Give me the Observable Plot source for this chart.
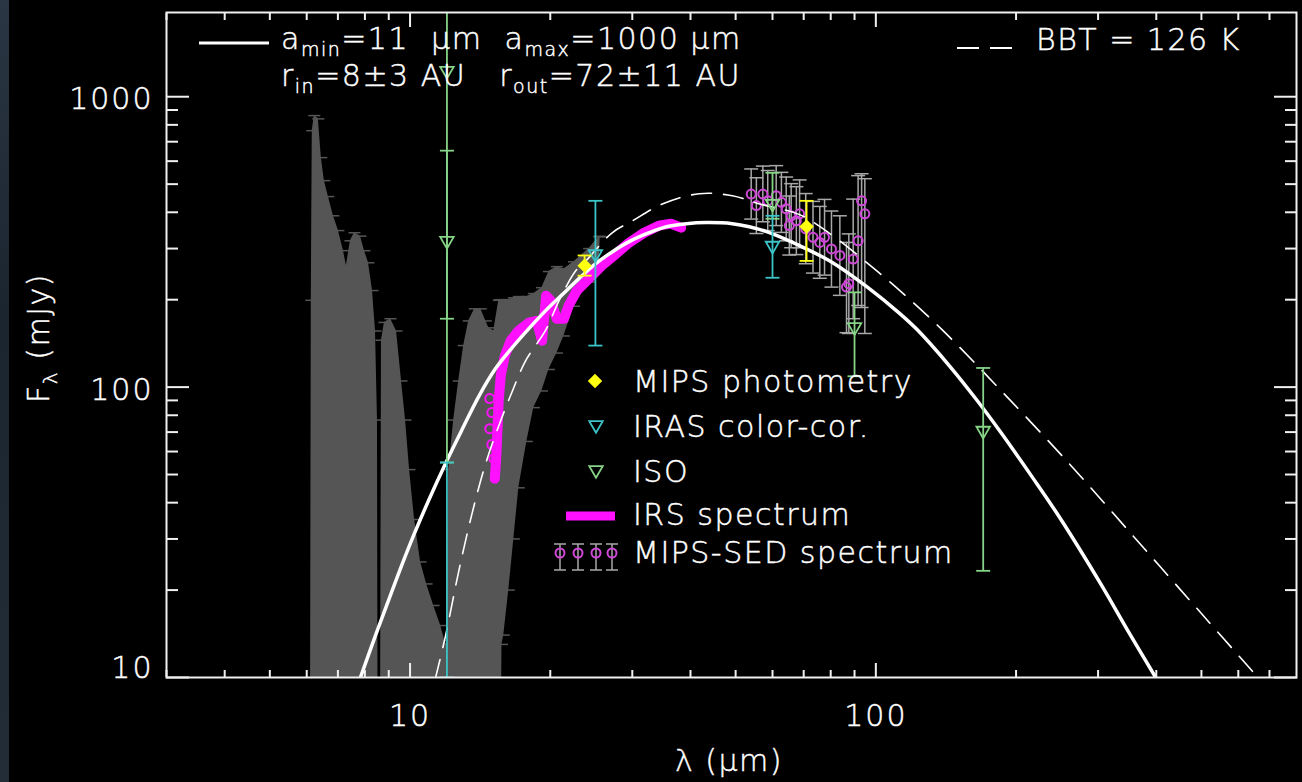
<!DOCTYPE html>
<html><head><meta charset="utf-8">
<script src="https://cdn.jsdelivr.net/npm/d3@7"></script>
<script src="https://cdn.jsdelivr.net/npm/@observablehq/plot@0.6"></script>
<style>
html,body{margin:0;padding:0;background:#000;}
#chart{position:relative;width:1302px;height:782px;overflow:hidden;background:#000;}
#strip{position:absolute;left:0;top:0;width:9px;height:782px;background:linear-gradient(#2a3643,#1b2530 40%,#232d38);z-index:2;}
#chart svg text{stroke:#ffffff;stroke-width:0.45px;}
</style></head><body><div id="chart"><div id="strip"></div></div>
<script>
// ---------------- DATA ----------------
// Gray IRS low-resolution spectrum with error bars (wavelength μm, lower / upper flux mJy)
const grayLam = [6.10,6.137,6.167,6.229,6.354,6.449,6.546,6.677,6.845,7.016,7.193,7.301,7.447,7.597,7.826,7.982,8.142,8.305,8.430,8.513,8.555,8.618,8.682,8.812,9.079,9.353,9.587,9.779,9.975,10.226,10.534,10.852,11.236,11.632,11.865,11.984,12.104,12.408,12.719,13.038,13.365,13.768,14.184,14.541,14.757,15.128,15.507,15.6,15.75,15.896,16.294,16.703,17.121,17.814,18.442,19.19,19.867,20.671,21.401,22.488,24.231,25.463,25.6];
const grayLo  = [1,1,1,1,1,1,1,1,1,1,1,1,1,1,1,1,1,1,1,1,1,1,1,1,1,1,1,1,1,1,1,1,1,1,1,1,1,1,1,1,1,1,1,1,1,1,1,1,13,14,20,30,45,65,85,97,115,131,150,190,230,260,330];
const grayHi  = [1,199,764,861,839,617,514,453,389,346,295,262,319,340,331,295,268,215,156,77,1,1,145,167,172,156,105,77,52,35,25,21,17.7,15.1,13.4,13,52,77,105,139,169,186,186,169,160,156,199,200,200,200,200,203,205,205,210,220,250,260,255,270,300,330,330];

// IRS spectrum (thick magenta)
const irsLam = [15.2,15.3,15.4,15.5,15.66,15.97,16.45,17.1,18.0,18.7,19.2,19.6,20.05,20.65,21.4,21.9,22.8,24.2,25.8,27.4,29.5,31.8,34.2,36.3,38.2];
const irsF   = [48.4,55.8,70.8,89.8,109.6,128,144.5,156.5,166.7,169,144.5,206.5,198.6,172,172,190.8,214.7,236.3,261.9,283.6,314,340,359.7,365.5,354];
// IRS short-wavelength points drawn as circles
const irsPtLam = [14.83,14.98,14.83,14.98,15.13];
const irsPtF   = [91.3,81.7,71.9,63.4,56.7];

// Disk model (solid white): a_min=11 μm, a_max=1000 μm
const modelLam = [7.81,8.55,9.307,10.07,10.96,11.91,12.93,14.04,15.26,16.57,17.99,19.55,21.22,23.05,25.04,27.2,29.54,32.6,35.5,39.2,43.3,49.2,53.5,58.3,68.6,80.8,95.6,112.6,122.6,144.3,165,184.9,217.8,248.9,303.5,346.7,398.8];
const modelF   = [9.92,14.86,21.4,29.6,40.7,54.5,71.4,92.8,115.8,136.8,159,183.4,208.2,236.4,266.1,292.7,316.9,340.2,356.8,365.4,368.5,365.4,356.8,343,306.9,268.3,221.8,179.1,157.8,117.7,89.9,70.3,48.4,35.3,21.1,14.6,10];

// Blackbody T = 126 K (dashed)
const bbLam = [11.33,11.91,12.72,13.58,14.52,15.5,16.57,17.7,19.55,20.9,22.7,23.87,27.16,30.0,34.8,41.8,49.2,56.3,68.6,80.8,95.6,112.6,139.4,184.9,257.7,357.5,498.4,661];
const bbF   = [9.9,13.86,23.2,36.6,54.3,73.5,96.6,123.2,157,199,252,272.6,340,373.3,427,463.6,456,427,392.6,332.3,268.3,214.9,156.5,98.0,55.4,30.6,16.7,10];

// MIPS photometry (yellow diamonds)
const mipsLam = [23.7,71];
const mipsF   = [262,357];
const mipsLo  = [242,272];
const mipsHi  = [284,438];

// IRAS color-corrected (cyan)
const irasLam = [12,25,60];
const irasF   = [null,287,307];
const irasLo  = [10,139,238];
const irasHi  = [55,438,389];

// ISO (green)
const isoLam = [12,12,60,90,170];
const isoF   = [1229,319,428,161,70.8];
const isoLo  = [55,172,380,109,23.3];
const isoHi  = [4000,652,547,212,116.4];

// MIPS-SED spectrum (magenta circles, gray error bars)
const sedLam = [54.0,55.4,57.2,58.6,61.1,62.7,64.2,65.2,65.8,67.5,68.6,70.7,73.3,75.8,77.6,80.3,83.7,86.5,87.5,89.4,91.6,93.2,94.7];
const sedF   = [462,422,462,438,456,433,411,360,389,374,395,351,328,315,328,299,284,221,227,276,319,438,395];
const sedLo  = [379,338,371,346,360,341,319,285,302,286,302,266,247,237,243,221,207,154,153,172,191,188,153];
const sedHi  = [564,526,577,557,579,549,529,455,502,490,517,464,436,419,443,404,389,315,337,444,535,543,522];

// Axis ticks
const xMajor = [10,100];
const xMinor = [3,4,5,6,7,8,9,20,30,40,50,60,70,80,90,200,300,400,500,600,700];
const yMajor = [10,100,1000];
const yMinor = [20,30,40,50,60,70,80,90,200,300,400,500,600,700,800,900];

const legendLabels = ["MIPS photometry","IRAS color-cor.","ISO","IRS spectrum","MIPS-SED spectrum"];

// ---------------- BUILD ----------------
const zip = (keys, arrs) => arrs[0].map((_, i) => Object.fromEntries(keys.map((k, j) => [k, arrs[j][i]])));
const gray  = zip(["lam","lo","hi"], [grayLam, grayLo, grayHi]);
const irs   = zip(["lam","f"], [irsLam, irsF]);
const irsPt = zip(["lam","f"], [irsPtLam, irsPtF]);
const model = zip(["lam","f"], [modelLam, modelF]);
const bb    = zip(["lam","f"], [bbLam, bbF]);
const mips  = zip(["lam","f","lo","hi"], [mipsLam, mipsF, mipsLo, mipsHi]);
const iras  = zip(["lam","f","lo","hi"], [irasLam, irasF, irasLo, irasHi]);
const iso   = zip(["lam","f","lo","hi"], [isoLam, isoF, isoLo, isoHi]);
const sed   = zip(["lam","f","lo","hi"], [sedLam, sedF, sedLo, sedHi]);

const GRAY = "#555555", SEDGRAY = "#a8a8a8", MAG = "#ff10ff", SEDMAG = "#d048d8",
      YEL = "#ffff10", CYAN = "#3cc4c8", GREEN = "#86d486";
const FONT = '"DejaVu Sans", "Liberation Sans", sans-serif';

const capSym = {draw(ctx, size) { const r = Math.sqrt(size / Math.PI); ctx.moveTo(-r, 0); ctx.lineTo(r, 0); }};

function errMarks(data, color, capR, sw) {
  return [
    Plot.ruleX(data, {x: "lam", y1: "lo", y2: "hi", stroke: color, strokeWidth: sw, clip: true}),
    Plot.dot(data, {x: "lam", y: "lo", symbol: capSym, r: capR, stroke: color, strokeWidth: sw, clip: true}),
    Plot.dot(data, {x: "lam", y: "hi", symbol: capSym, r: capR, stroke: color, strokeWidth: sw, clip: true})
  ];
}

const tickStyle = {fill: "none", stroke: "#f0f0f0", strokeWidth: 2};

const plot = Plot.plot({
  width: 1302, height: 782,
  marginLeft: 166, marginRight: 6, marginTop: 12, marginBottom: 105,
  style: {background: "black", color: "white", fontFamily: FONT, fontSize: "30px", fontWeight: 300, letterSpacing: "2px", overflow: "visible"},
  x: {type: "log", domain: [3, 800]},
  y: {type: "log", domain: [10, 1950]},
  marks: [
    // gray spectrum band
    Plot.areaY(gray, {x: "lam", y1: "lo", y2: "hi", fill: GRAY, clip: true}),
    Plot.dot(gray.filter(d => d.hi > 10), {x: "lam", y: "hi", symbol: capSym, r: 6, stroke: GRAY, strokeWidth: 1.5, clip: true}),
    Plot.dot(gray.filter(d => d.lo > 10), {x: "lam", y: "lo", symbol: capSym, r: 6, stroke: GRAY, strokeWidth: 1.5, clip: true}),
    // MIPS-SED spectrum
    ...errMarks(sed, SEDGRAY, 7, 1.5),
    Plot.dot(sed, {x: "lam", y: "f", r: 4.5, stroke: SEDMAG, strokeWidth: 2, fill: "none", clip: true}),
    // IRS spectrum
    Plot.dot(irsPt, {x: "lam", y: "f", r: 4.5, stroke: MAG, strokeWidth: 2, fill: "none", clip: true}),
    Plot.line(irs, {x: "lam", y: "f", stroke: MAG, strokeWidth: 10, strokeLinejoin: "round", clip: true}),
    // model and blackbody
    Plot.line(model, {x: "lam", y: "f", stroke: "white", strokeWidth: 3.5, curve: "catmull-rom", clip: true}),
    Plot.line(bb, {x: "lam", y: "f", stroke: "white", strokeWidth: 1.6, strokeDasharray: "20,12", curve: "catmull-rom", clip: true}),
    // ISO
    ...errMarks(iso, GREEN, 7, 1.8),
    Plot.dot(iso, {x: "lam", y: "f", symbol: "triangle", rotate: 180, r: 5, stroke: GREEN, strokeWidth: 1.8, fill: "none", clip: true}),
    // IRAS
    ...errMarks(iras, CYAN, 7, 1.8),
    Plot.dot(iras, {x: "lam", y: "f", symbol: "triangle", rotate: 180, r: 5, stroke: CYAN, strokeWidth: 1.8, fill: "none", clip: true}),
    // MIPS photometry
    ...errMarks(mips, YEL, 7, 1.8),
    Plot.dot(mips, {x: "lam", y: "f", symbol: "diamond2", r: 6.5, fill: YEL, stroke: "none", clip: true}),
    // frame and inward ticks on all four sides
    Plot.frame({stroke: "#f0f0f0", strokeWidth: 2}),
    Plot.axisX(xMajor, {anchor: "bottom", tickSize: -14, ...tickStyle}),
    Plot.axisX(xMinor, {anchor: "bottom", tickSize: -7, ...tickStyle}),
    Plot.axisX(xMajor, {anchor: "top", tickSize: -14, ...tickStyle}),
    Plot.axisX(xMinor, {anchor: "top", tickSize: -7, ...tickStyle}),
    Plot.axisY(yMajor, {anchor: "left", tickSize: -23, ...tickStyle}),
    Plot.axisY(yMinor, {anchor: "left", tickSize: -12, ...tickStyle}),
    Plot.axisY(yMajor, {anchor: "right", tickSize: -23, ...tickStyle}),
    Plot.axisY(yMinor, {anchor: "right", tickSize: -12, ...tickStyle}),
    // tick labels
    Plot.axisX(xMajor, {anchor: "bottom", tickSize: 0, tickPadding: 27, fontSize: 30, tickFormat: d => String(d), label: null, fill: "white"}),
    Plot.axisY(yMajor.slice(1), {anchor: "left", tickSize: 0, tickPadding: 13, fontSize: 30, tickFormat: d => String(d), label: null, fill: "white", dy: 3}),
    Plot.axisY(yMajor.slice(0, 1), {anchor: "left", tickSize: 0, tickPadding: 13, fontSize: 30, tickFormat: d => String(d), label: null, fill: "white", dy: -9})
  ]
});

document.getElementById("chart").appendChild(plot);

// ---------------- annotations, titles and legend ----------------
const svg = d3.select(plot);
const g = svg.append("g")
  .attr("font-family", FONT).attr("font-size", 30).attr("font-weight", 300)
  .attr("text-anchor", "start")
  .attr("fill", "white").attr("letter-spacing", "1.5px").style("white-space", "pre");

function sub(t, main, s) { t.append("tspan").text(main); t.append("tspan").attr("dy", 7).attr("font-size", 19).text(s); }

// top-left model legend
g.append("line").attr("x1", 199).attr("x2", 269).attr("y1", 43).attr("y2", 43).attr("stroke", "white").attr("stroke-width", 3);
const t1 = g.append("text").attr("x", 281).attr("y", 49);
sub(t1, "a", "min");
t1.append("tspan").attr("dy", -7).text("=11  \u03bcm  ");
sub(t1, "a", "max");
t1.append("tspan").attr("dy", -7).text("=1000 \u03bcm");

const t2 = g.append("text").attr("x", 281).attr("y", 86);
sub(t2, "r", "in");
t2.append("tspan").attr("dy", -7).text("=8\u00b13 AU   ");
sub(t2, "r", "out");
t2.append("tspan").attr("dy", -7).text("=72\u00b111 AU");

// blackbody legend (top right)
g.append("line").attr("x1", 957).attr("x2", 1012).attr("y1", 48).attr("y2", 48)
  .attr("stroke", "white").attr("stroke-width", 2).attr("stroke-dasharray", "22,11");
g.append("text").attr("x", 1036).attr("y", 50).text("BBT = 126 K");

// axis titles
const yt = g.append("text").attr("transform", "translate(49,338) rotate(-90)").attr("text-anchor", "middle");
yt.append("tspan").text("F");
yt.append("tspan").attr("dy", 8).attr("font-size", 20).text("\u03bb");
yt.append("tspan").attr("dy", -8).text(" (mJy)");

g.append("text").attr("x", 729).attr("y", 771).attr("text-anchor", "middle").text("\u03bb (\u03bcm)");

// data legend
const rowsY = [392, 437, 482, 525, 563];
legendLabels.forEach((lab, i) => g.append("text").attr("x", 633).attr("y", rowsY[i]).text(lab));
g.append("path").attr("d", d3.symbol(d3.symbolDiamond2, 6.5 * 6.5 * Math.PI)()).attr("transform", "translate(595,381)").attr("fill", YEL);
const tri = d3.symbol(d3.symbolTriangle, 5 * 5 * Math.PI)();
g.append("path").attr("d", tri).attr("transform", "translate(596,425) rotate(180)").attr("fill", "none").attr("stroke", CYAN).attr("stroke-width", 1.8);
g.append("path").attr("d", tri).attr("transform", "translate(596,470) rotate(180)").attr("fill", "none").attr("stroke", GREEN).attr("stroke-width", 1.8);
g.append("line").attr("x1", 566).attr("x2", 615).attr("y1", 516).attr("y2", 516).attr("stroke", MAG).attr("stroke-width", 9);
[560, 578, 596, 612].forEach(x => {
  g.append("line").attr("x1", x).attr("x2", x).attr("y1", 544).attr("y2", 570).attr("stroke", SEDGRAY).attr("stroke-width", 1.5);
  g.append("line").attr("x1", x - 6).attr("x2", x + 6).attr("y1", 544).attr("y2", 544).attr("stroke", SEDGRAY).attr("stroke-width", 1.5);
  g.append("line").attr("x1", x - 6).attr("x2", x + 6).attr("y1", 570).attr("y2", 570).attr("stroke", SEDGRAY).attr("stroke-width", 1.5);
  g.append("circle").attr("cx", x).attr("cy", 553).attr("r", 4.5).attr("fill", "none").attr("stroke", SEDMAG).attr("stroke-width", 2);
});
</script></body></html>
